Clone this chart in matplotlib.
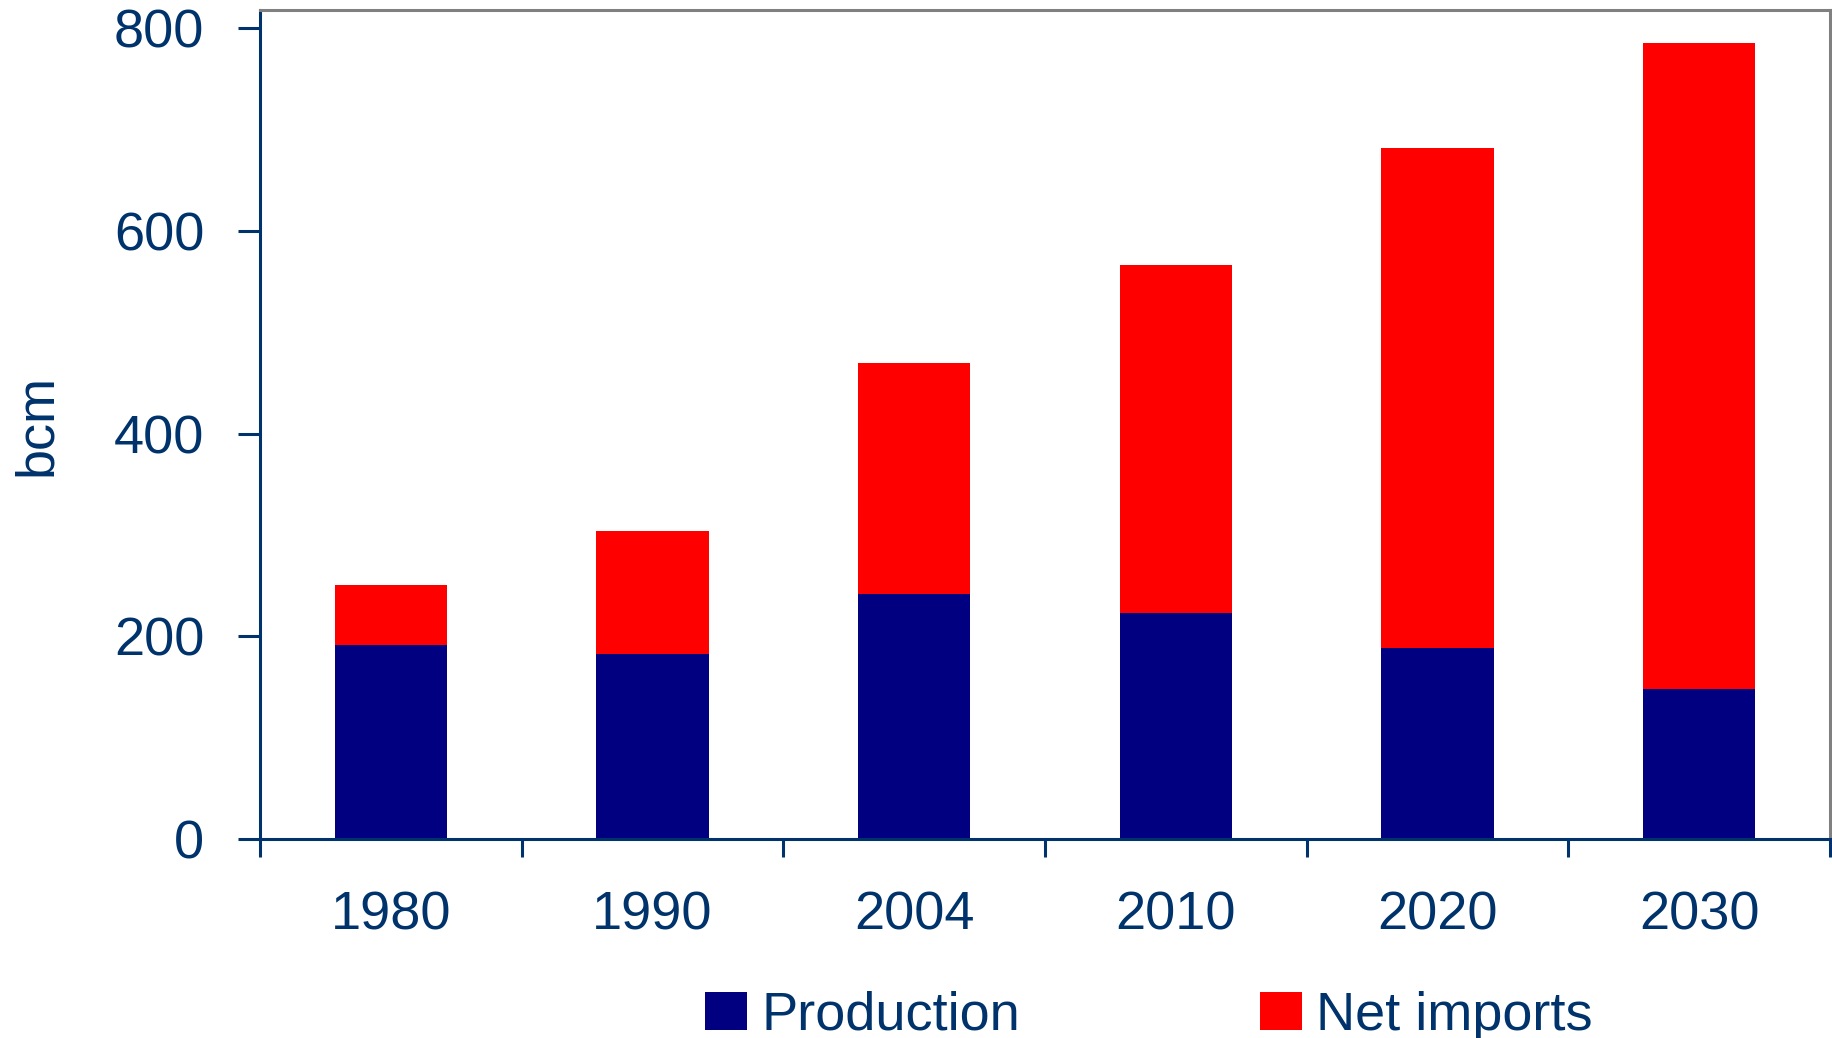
import matplotlib
matplotlib.use("Agg")
import matplotlib.pyplot as plt
from matplotlib.patches import Patch
import numpy as np

years = ["1980", "1990", "2004", "2010", "2020", "2030"]
production = [191.5, 182.5, 242, 223, 188.5, 148]
net_imports = [59.5, 121.5, 228, 343.5, 493.5, 637]
yticks = [0, 200, 400, 600, 800]

NAVY_TXT = "#00336B"
PROD_C = "#000080"
IMP_C = "#FF0000"

plt.rcParams["font.family"] = ["Liberation Sans", "DejaVu Sans"]
FS = 39

fig = plt.figure(figsize=(18.33, 10.38), dpi=100)
W, H = 1833, 1038
ax = fig.add_axes([260 / W, (H - 839) / H, 1570 / W, 829 / H])

x = np.arange(len(years))
ax.bar(x, production, width=0.43, color=PROD_C, label="Production", zorder=2)
ax.bar(x, net_imports, width=0.43, bottom=production, color=IMP_C,
       label="Net imports", zorder=2)

ax.set_xlim(-0.5, len(years) - 0.5)
ax.set_ylim(0, 818)

ax.set_yticks(yticks)
ax.set_yticklabels([str(v) for v in yticks])
ax.tick_params(axis="y", direction="out", length=16, width=2.2, color=NAVY_TXT,
               labelsize=FS, labelcolor=NAVY_TXT, pad=24)

ax.set_xticks(x)
ax.set_xticklabels(years)
ax.tick_params(axis="x", which="major", length=0, labelsize=FS,
               labelcolor=NAVY_TXT, pad=37)
ax.set_xticks(np.arange(-0.5, len(years), 1.0), minor=True)
ax.tick_params(axis="x", which="minor", direction="out", length=13, width=2.2,
               color=NAVY_TXT)

for s in ["left", "bottom"]:
    ax.spines[s].set_color(NAVY_TXT)
    ax.spines[s].set_linewidth(2.2)
for s in ["top", "right"]:
    ax.spines[s].set_color("#808080")
    ax.spines[s].set_linewidth(2.2)

ax.set_ylabel("bcm", fontsize=FS, color=NAVY_TXT)
ax.yaxis.set_label_coords(-198 / 1570, 0.5)

handles = [Patch(facecolor=PROD_C, label="Production"),
           Patch(facecolor=IMP_C, label="Net imports")]
fig.legend(handles=handles, loc="lower left",
           bbox_to_anchor=(705 / W, -3 / H), ncol=2, frameon=False,
           fontsize=FS, labelcolor=NAVY_TXT, handlelength=0.78,
           handleheight=0.70, handletextpad=0.26, columnspacing=4.43,
           borderpad=0, borderaxespad=0)

fig.savefig("out.png", dpi=100)
